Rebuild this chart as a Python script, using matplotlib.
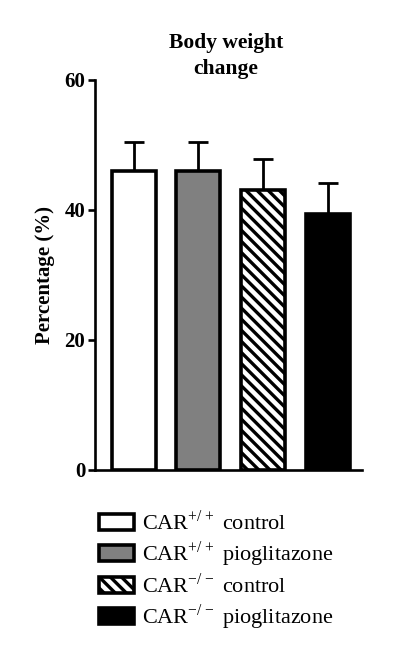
import matplotlib
matplotlib.use("Agg")
import matplotlib.pyplot as plt
from matplotlib.patches import Patch

# values
groups = ["CAR$^{+/+}$ control", "CAR$^{+/+}$ pioglitazone",
          "CAR$^{-/-}$ control", "CAR$^{-/-}$ pioglitazone"]
means = [46.0, 46.0, 43.1, 39.3]
sem = [4.4, 4.4, 4.7, 4.9]
fills = ["white", "#808080", "white", "black"]
hatches = ["", "", "\\\\\\", ""]
yticks = [0, 20, 40, 60]

plt.rcParams["font.family"] = ["Liberation Serif", "DejaVu Serif"]
plt.rcParams["mathtext.fontset"] = "custom"
plt.rcParams["mathtext.rm"] = "Liberation Serif"
plt.rcParams["hatch.linewidth"] = 2.4

fig = plt.figure(figsize=(3.94, 6.6), dpi=100)
ax = fig.add_axes([0.241, 0.288, 0.678, 0.591])

x = list(range(len(means)))
ax.bar(x, means, width=0.68, color=fills, edgecolor="black",
       linewidth=2.6, hatch=hatches, zorder=2)
ax.errorbar(x, means, yerr=[[0] * len(sem), sem], fmt="none",
            ecolor="black", elinewidth=2.0, capsize=7, capthick=2.0, zorder=1)

ax.set_xlim(-0.6, 3.53)
ax.set_ylim(0, 60)
ax.set_yticks(yticks)
ax.set_yticklabels([str(t) for t in yticks], fontsize=15, fontweight="bold")
ax.set_xticks([])
ax.spines["top"].set_visible(False)
ax.spines["right"].set_visible(False)
ax.spines["left"].set_linewidth(1.9)
ax.spines["bottom"].set_linewidth(1.9)
ax.tick_params(axis="y", direction="out", length=5, width=1.9, pad=2)
ax.set_ylabel("Percentage (%)", fontsize=15, fontweight="bold", labelpad=7)

fig.text(0.574, 0.915, "Body weight\nchange", ha="center", va="center",
         fontsize=15.5, fontweight="bold", linespacing=1.4)

handles = [Patch(facecolor=f, edgecolor="black", linewidth=2.6, hatch=h)
           for f, h in zip(fills, hatches)]
fig.legend(handles, groups, loc="upper left", bbox_to_anchor=(0.25, 0.227),
           frameon=False, fontsize=16, handlelength=1.6, handleheight=0.77,
           labelspacing=0.2, handletextpad=0.36, borderaxespad=0,
           borderpad=0)

fig.savefig("out.png", dpi=100)
